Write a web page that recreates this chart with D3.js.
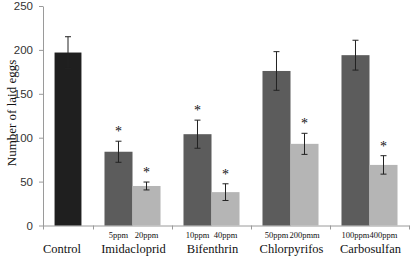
<!DOCTYPE html>
<html>
<head>
<meta charset="utf-8">
<script src="https://cdn.jsdelivr.net/npm/d3@7"></script>
<style>
    body { margin: 0; background: #fff; }
    .axis path, .axis line { stroke: #9a9a9a; }
    .serif { font-family: "Liberation Serif", "Times New Roman", serif; fill: #111; }
</style>
</head>
<body>
<svg id="chart" width="412" height="257"></svg>
<script>

// data
const groups = ['Control', 'Imidacloprid', 'Bifenthrin', 'Chlorpyrifos', 'Carbosulfan'];
const barGroup = ['Control', 'Imidacloprid', 'Imidacloprid', 'Bifenthrin', 'Bifenthrin',
    'Chlorpyrifos', 'Chlorpyrifos', 'Carbosulfan', 'Carbosulfan'];
const barDose = ['', '5ppm', '20ppm', '10ppm', '40ppm', '50ppm', '200pmm', '100ppm', '400ppm'];
const barLevel = ['control', 'low', 'high', 'low', 'high', 'low', 'high', 'low', 'high'];
const eggMeans = [197, 84, 45, 104, 38, 176, 93, 194, 69];
const eggErrors = [18, 12, 4.5, 16, 9.5, 22, 12, 17, 10.5];
const significant = [false, true, true, true, true, false, true, false, true];
const yTicks = [0, 50, 100, 150, 200, 250];

const colors = {control: '#1f1f1f', low: '#5c5c5c', high: '#b5b5b5'};

const svg = d3.select('#chart');
const mLeft = 43, mRight = 409, mTop = 6, mBottom = 225.5;

// control slot is narrower than the paired groups
const groupWeight = g => g === 'Control' ? 0.633 : 1;
let acc = 0;
const groupStart = {};
groups.forEach(g => { groupStart[g] = acc; acc += groupWeight(g); });

const x = d3.scaleLinear().domain([0, acc]).range([mLeft, mRight]);
const y = d3.scaleLinear().domain([0, 250]).range([mBottom, mTop]);

const unit = x(1) - x(0);
const pairScale = d3.scaleBand().domain(['low', 'high']).range([0, unit]).paddingOuter(0.41);
const ctrlScale = d3.scaleBand().domain(['control']).range([0, unit * 0.633]).paddingOuter(0.43);

const bars = eggMeans.map((v, i) => {
    let inner = barLevel[i] === 'control' ? ctrlScale : pairScale;
    let x0 = x(groupStart[barGroup[i]]) + inner(barLevel[i]);
    return {
        x: x0,
        w: inner.bandwidth(),
        value: v,
        err: eggErrors[i],
        level: barLevel[i],
        dose: barDose[i],
        star: significant[i]
    };
});

// y axis
let yAxis = d3.axisLeft(y).tickValues(yTicks).tickSize(4).tickSizeOuter(0).tickPadding(6);
svg.append('g')
    .attr('class', 'axis')
    .attr('transform', `translate(${mLeft},0)`)
    .call(yAxis)
    .call(g => g.selectAll('text')
        .style('font-family', '"Liberation Sans", Arial, sans-serif')
        .style('font-size', '11.5px')
        .attr('fill', '#333'));

// x axis line with group separators
let edges = groups.map(g => groupStart[g]).concat([acc]);
let xAxis = d3.axisBottom(x).tickValues(edges).tickSize(4).tickSizeOuter(0).tickFormat('');
svg.append('g')
    .attr('class', 'axis')
    .attr('transform', `translate(0,${mBottom})`)
    .call(xAxis);

// bars
svg.append('g').selectAll('rect')
    .data(bars)
    .join('rect')
    .attr('x', d => d.x)
    .attr('width', d => d.w)
    .attr('y', d => y(d.value))
    .attr('height', d => y(0) - y(d.value))
    .attr('fill', d => colors[d.level]);

// error bars
let eb = svg.append('g')
    .attr('stroke', '#222')
    .attr('stroke-width', 1)
    .selectAll('g')
    .data(bars)
    .join('g');
eb.append('line')
    .attr('x1', d => d.x + d.w / 2).attr('x2', d => d.x + d.w / 2)
    .attr('y1', d => y(d.value + d.err)).attr('y2', d => y(d.value - d.err));
eb.append('line')
    .attr('x1', d => d.x + d.w / 2 - 3).attr('x2', d => d.x + d.w / 2 + 3)
    .attr('y1', d => y(d.value + d.err)).attr('y2', d => y(d.value + d.err));
eb.append('line')
    .attr('x1', d => d.x + d.w / 2 - 3).attr('x2', d => d.x + d.w / 2 + 3)
    .attr('y1', d => y(d.value - d.err)).attr('y2', d => y(d.value - d.err));

// significance stars
svg.append('g').selectAll('text')
    .data(bars.filter(d => d.star))
    .join('text')
    .attr('class', 'serif')
    .attr('x', d => d.x + d.w / 2)
    .attr('y', d => y(d.value + d.err) - 5)
    .attr('text-anchor', 'middle')
    .style('font-size', '14px')
    .text('*');

// dose labels
svg.append('g').selectAll('text')
    .data(bars.filter(d => d.dose))
    .join('text')
    .attr('class', 'serif')
    .attr('x', d => d.x + d.w / 2)
    .attr('y', 238)
    .attr('text-anchor', 'middle')
    .style('font-size', '8.5px')
    .text(d => d.dose);

// group labels
svg.append('g').selectAll('text')
    .data(groups)
    .join('text')
    .attr('class', 'serif')
    .attr('x', g => x(groupStart[g] + groupWeight(g) / 2) + (g === 'Control' ? -6 : 1))
    .attr('y', 253)
    .attr('text-anchor', 'middle')
    .style('font-size', '12.5px')
    .text(g => g);

// y label
svg.append('text')
    .attr('class', 'serif')
    .attr('transform', 'rotate(-90)')
    .attr('x', -113)
    .attr('y', 16)
    .attr('text-anchor', 'middle')
    .style('font-size', '13px')
    .text('Number of laid eggs');

</script>
</body>
</html>
